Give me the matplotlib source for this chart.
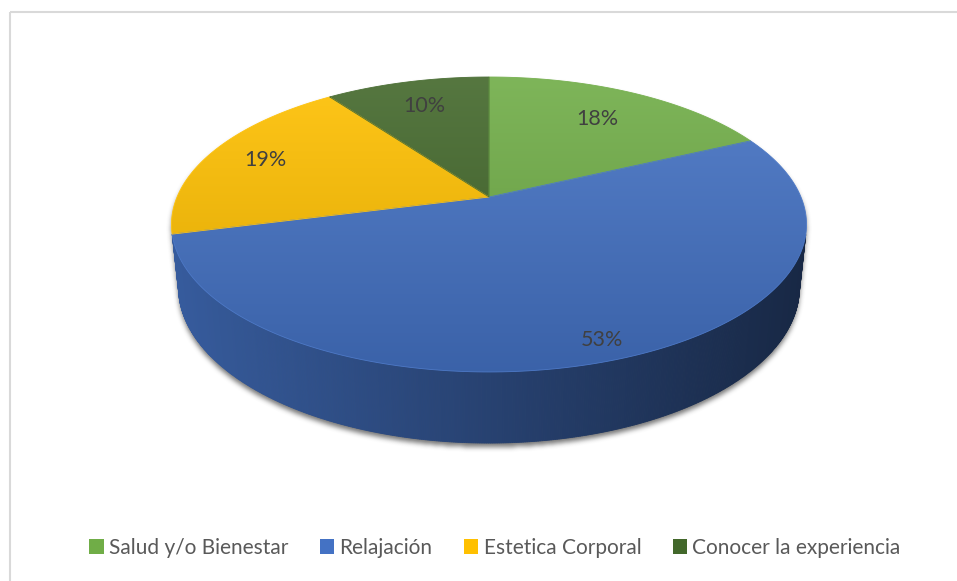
import numpy as np
import matplotlib
matplotlib.use("Agg")
import matplotlib.pyplot as plt
from matplotlib.patches import Polygon, Rectangle, Patch
from matplotlib.path import Path
from matplotlib.colors import to_rgb

# data
categories = ["Salud y/o Bienestar", "Relajación", "Estetica Corporal", "Conocer la experiencia"]
values = [18, 53, 19, 10]
colors = ["#70AD47", "#4472C4", "#FFC000", "#43682B"]
label_radius = [0.72, 0.90, 0.80, 0.76]

W, H = 957, 581
fig = plt.figure(figsize=(W / 100, H / 100), dpi=100)
ax = fig.add_axes([0, 0, 1, 1])
ax.set_xlim(0, W)
ax.set_ylim(H, 0)
ax.axis("off")

# camera for the tilted pie (pixel units on screen)
CX, CY = 489, 197
FOC = 1489.0
RAD = 0.2095
DEPTH = 0.0477
SPHI, CPHI = 0.4563, 0.8898
SIDE_LIMIT = -0.25  # sin(theta) below this shows the wall


def project(u, v, z=0.0):
    d = 1.0 + v * CPHI - z * SPHI
    return CX + FOC * u / d, CY - FOC * (v * SPHI + z * CPHI) / d


def rim(theta_deg, r=1.0, z=0.0):
    t = np.radians(theta_deg)
    return project(r * RAD * np.cos(t), r * RAD * np.sin(t), z)


def shade(c, f):
    return tuple(np.clip(np.array(to_rgb(c)) * f, 0, 1))


def lighten(c, f):
    c = np.array(to_rgb(c))
    return tuple(c + (1 - c) * f)


total = float(sum(values))
bounds = 90 - 360 * np.concatenate([[0], np.cumsum(values)]) / total

# soft drop shadow under the whole disc
yy, xx = np.mgrid[0:H, 0:W]
pts = np.column_stack([xx.ravel() + 0.5, yy.ravel() + 0.5])
th = np.linspace(0, 360, 721)
top_x, top_y = rim(th)
bot_x, bot_y = rim(th, z=-DEPTH)
m1 = Path(np.column_stack([top_x, top_y])).contains_points(pts)
m2 = Path(np.column_stack([bot_x, bot_y])).contains_points(pts)
vis = np.linspace(-166.4, -13.6, 300)
sx1, sy1 = rim(vis)
sx2, sy2 = rim(vis[::-1], z=-DEPTH)
m3 = Path(np.column_stack([np.r_[sx1, sx2], np.r_[sy1, sy2]])).contains_points(pts)
mask = (m1 | m2 | m3).reshape(H, W).astype(float)
mask = np.roll(mask, 4, axis=0)


def box_blur(a, k):
    for axis in (0, 1):
        c = np.cumsum(np.pad(a, [(k + 1, k) if i == axis else (0, 0) for i in range(2)], mode="edge"), axis=axis)
        if axis == 0:
            a = (c[2 * k + 1:] - c[:-2 * k - 1]) / (2 * k + 1)
        else:
            a = (c[:, 2 * k + 1:] - c[:, :-2 * k - 1]) / (2 * k + 1)
    return a


for _ in range(3):
    mask = box_blur(mask, 2)
shadow = np.zeros((H, W, 4))
shadow[..., :3] = 0.33
shadow[..., 3] = mask * 0.8
ax.imshow(shadow, extent=(0, W, H, 0), zorder=1, interpolation="bilinear")

# side wall: thin strips, darker toward the right
xmin, xmax = top_x.min(), top_x.max()
for i, col in enumerate(colors):
    a0, a1 = bounds[i], bounds[i + 1]
    seg = np.linspace(a0, a1, max(4, int(abs(a0 - a1) * 3)))
    for s0, s1 in zip(seg[:-1], seg[1:]):
        mid = np.radians((s0 + s1) / 2)
        if np.sin(mid) >= SIDE_LIMIT:
            continue
        x0, y0 = rim(s0)
        x1, y1 = rim(s1)
        x2, y2 = rim(s1, z=-DEPTH)
        x3, y3 = rim(s0, z=-DEPTH)
        t = ((x0 + x1) / 2 - xmin) / (xmax - xmin)
        f = 0.80 - 0.45 * t ** 1.0
        ax.add_patch(Polygon([(x0, y0), (x1, y1), (x2, y2), (x3, y3)], closed=True,
                             facecolor=shade(col, f), edgecolor=shade(col, f),
                             linewidth=0.6, zorder=2))

# top faces with a gentle vertical gradient
ytop, ybot = top_y.min(), top_y.max()
grad = np.linspace(0, 1, 256)[:, None]
for i, col in enumerate(colors):
    a0, a1 = bounds[i], bounds[i + 1]
    arc = np.linspace(a0, a1, 200)
    ax_, ay_ = rim(arc)
    poly = np.vstack([[CX, CY], np.column_stack([ax_, ay_])])
    patch = Polygon(poly, closed=True, facecolor="none", edgecolor="none")
    ax.add_patch(patch)
    c_top = np.array(lighten(col, 0.10))
    c_bot = np.array(shade(col, 0.86))
    img = c_top[None, None, :] * (1 - grad[..., None]) + c_bot[None, None, :] * grad[..., None]
    im = ax.imshow(img, extent=(xmin - 2, xmax + 2, ybot + 1, ytop - 1),
                   zorder=3, interpolation="bilinear", aspect="auto")
    im.set_clip_path(patch)
    ax.add_patch(Polygon(poly, closed=True, facecolor="none",
                         edgecolor=lighten(col, 0.05), linewidth=0.6, zorder=3.5))

# percentage labels
for i, v in enumerate(values):
    mid = (bounds[i] + bounds[i + 1]) / 2
    lx, ly = rim(mid, r=label_radius[i])
    ax.text(lx, ly, f"{v}%", ha="center", va="center", fontsize=15.5,
            family="Lato", color="#404040", zorder=5)

# chart area border
ax.add_patch(Rectangle((10, 12), W, H, facecolor="none", edgecolor="#d9d9d9",
                       linewidth=1.5, zorder=0))

handles = [Patch(facecolor=c, edgecolor="none") for c in colors]
fig.legend(handles, categories, loc="center", bbox_to_anchor=(495 / W, 1 - 548 / H),
           ncol=4, frameon=False, prop={"family": "Lato", "size": 15},
           labelcolor="#595959", handlelength=0.7, handleheight=0.7,
           handletextpad=0.25, columnspacing=1.5)

fig.savefig("out.png", dpi=100)
